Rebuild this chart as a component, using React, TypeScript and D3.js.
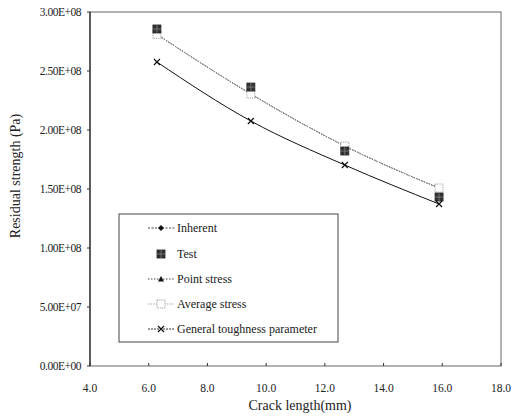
import React from "react";
import * as d3 from "d3";

const crackLength = [6.28, 9.48, 12.68, 15.89];
const inherent = [2.81e8, 2.305e8, 1.864e8, 1.508e8];
const test = [2.856e8, 2.364e8, 1.822e8, 1.432e8];
const pointStress = [2.81e8, 2.305e8, 1.864e8, 1.508e8];
const averageStress = [2.81e8, 2.305e8, 1.864e8, 1.508e8];
const generalToughness = [2.576e8, 2.076e8, 1.703e8, 1.373e8];
const xTicks = [4, 6, 8, 10, 12, 14, 16, 18];
const yTicks = [0, 5e7, 1e8, 1.5e8, 2e8, 2.5e8, 3e8];
const yTickLabels = ["0.00E+00", "5.00E+07", "1.00E+08", "1.50E+08", "2.00E+08", "2.50E+08", "3.00E+08"];
const legendLabels = ["Inherent", "Test", "Point stress", "Average stress", "General toughness parameter"];

const W = 512, H = 420;
const m = { left: 90, right: 501, top: 12, bottom: 366 };
const FONT = '"Liberation Serif", "Times New Roman", "DejaVu Serif", serif';
const tstyle = { fontFamily: FONT };

function Marker({ kind, x, y }: { kind: string; x: number; y: number }) {
  if (kind === "diamond")
    return <path d={`M${x},${y - 3}L${x + 3},${y}L${x},${y + 3}L${x - 3},${y}Z`} fill="#111" />;
  if (kind === "square")
    return (
      <g>
        <rect x={x - 4} y={y - 4} width={8} height={8} fill="#333" stroke="#222" strokeWidth={0.8} />
        <path d={`M${x - 4},${y}H${x + 4}M${x},${y - 4}V${y + 4}`} stroke="#999" strokeWidth={0.6} />
      </g>
    );
  if (kind === "triangle")
    return <path d={`M${x},${y - 3}L${x + 3},${y + 2.5}L${x - 3},${y + 2.5}Z`} fill="#111" />;
  if (kind === "hollow")
    return <rect x={x - 4} y={y - 4} width={8} height={8} fill="#fff" stroke="#999" strokeWidth={0.9} strokeDasharray="1.2,1" />;
  return (
    <path
      d={`M${x - 3},${y - 3}L${x + 3},${y + 3}M${x - 3},${y + 3}L${x + 3},${y - 3}`}
      stroke="#111"
      strokeWidth={1.2}
    />
  );
}

export default function App() {
  const x = d3.scaleLinear().domain([4, 18]).range([m.left, m.right]);
  const y = d3.scaleLinear().domain([0, 3e8]).range([m.bottom, m.top]);
  const line = d3
    .line<number>()
    .x((_, i) => x(crackLength[i]))
    .y((d) => y(d))
    .curve(d3.curveMonotoneX);

  const series = [
    { vals: inherent, marker: "diamond", stroke: "#777", dash: "1.5,1.2", line: true },
    { vals: pointStress, marker: "triangle", stroke: "#777", dash: "1.5,1.2", line: true },
    { vals: averageStress, marker: "hollow", stroke: "#888", dash: "1.5,1.2", line: true },
    { vals: generalToughness, marker: "x", stroke: "#111", dash: "", line: true },
    { vals: test, marker: "square", stroke: "none", dash: "", line: false },
  ];

  const legendItems = [
    { label: legendLabels[0], marker: "diamond", stroke: "#444", dash: "2,1.5", line: true },
    { label: legendLabels[1], marker: "square", stroke: "none", dash: "", line: false },
    { label: legendLabels[2], marker: "triangle", stroke: "#444", dash: "1.5,1.5", line: true },
    { label: legendLabels[3], marker: "hollow", stroke: "#aaa", dash: "1.5,1.2", line: true },
    { label: legendLabels[4], marker: "x", stroke: "#333", dash: "2,1", line: true },
  ];
  const legY = [228, 254, 279, 304, 329];

  return (
    <svg width={W} height={H} style={{ position: "absolute", left: 0, top: 0, background: "#fff" }}>
      <rect width={W} height={H} fill="#fff" />
      <rect x={m.left} y={m.top} width={m.right - m.left} height={m.bottom - m.top} fill="none" stroke="#666" strokeWidth={1} />
      <line x1={m.left} x2={m.left} y1={m.top} y2={m.bottom} stroke="#222" strokeWidth={1.2} />
      {yTicks.map((t, i) => (
        <g key={"y" + i}>
          <line x1={m.left - 3} x2={m.left} y1={y(t)} y2={y(t)} stroke="#333" />
          <text x={m.left - 9} y={y(t) + 4} textAnchor="end" fontSize={11.5} fill="#222" letterSpacing={-0.5} style={tstyle}>
            {yTickLabels[i]}
          </text>
        </g>
      ))}
      {xTicks.map((t, i) => (
        <g key={"x" + i}>
          <line x1={x(t)} x2={x(t)} y1={m.bottom} y2={m.bottom - 3} stroke="#333" />
          <text x={x(t)} y={392} textAnchor="middle" fontSize={11.5} fill="#222" style={tstyle}>
            {t.toFixed(1)}
          </text>
        </g>
      ))}
      <text x={300} y={410} textAnchor="middle" fontSize={14} fill="#222" style={tstyle}>
        Crack length(mm)
      </text>
      <text transform={`translate(20,176) rotate(-90)`} textAnchor="middle" fontSize={14} fill="#222" style={tstyle}>
        Residual strength (Pa)
      </text>
      {series.map((s, si) => (
        <g key={"s" + si}>
          {s.line && <path d={line(s.vals) || ""} fill="none" stroke={s.stroke} strokeWidth={1} strokeDasharray={s.dash} />}
          {s.vals.map((v, i) => (
            <Marker key={i} kind={s.marker} x={x(crackLength[i])} y={y(v)} />
          ))}
        </g>
      ))}
      <rect x={119} y={214} width={219} height={128} fill="#fff" stroke="#444" strokeWidth={1} />
      {legendItems.map((it, i) => (
        <g key={"l" + i}>
          {it.line && <line x1={148} x2={175} y1={legY[i]} y2={legY[i]} stroke={it.stroke} strokeDasharray={it.dash} />}
          <Marker kind={it.marker} x={161} y={legY[i]} />
          <text x={177} y={legY[i] + 4} fontSize={12} fill="#222" style={tstyle}>
            {it.label}
          </text>
        </g>
      ))}
    </svg>
  );
}
